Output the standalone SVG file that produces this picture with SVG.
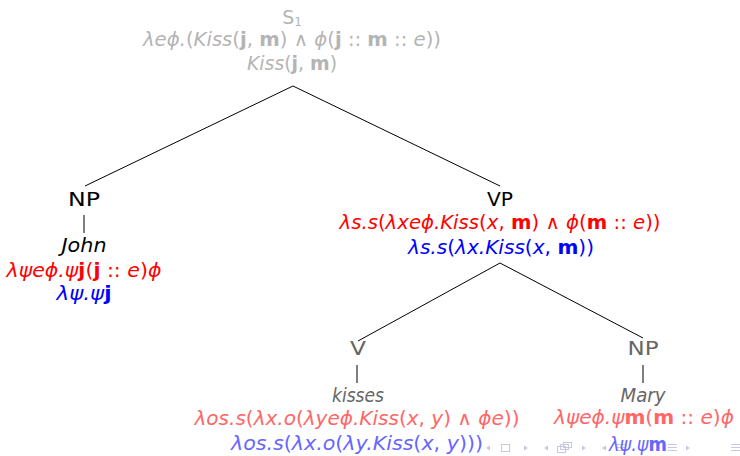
<svg xmlns="http://www.w3.org/2000/svg" width="740" height="456" viewBox="0 0 740 456">
<style>
text{font-family:"DejaVu Sans","Liberation Sans",sans-serif;font-size:19px;text-anchor:middle}
.i{font-style:italic}
.b{font-weight:bold}
.g1{fill:#b4b4b4}
.k{fill:#000}
.g2{fill:#666}
.r{fill:#ff0000}
.bl{fill:#0000ff}
.r2{fill:#ff6666}
.b2{fill:#6666ff}
.edge{stroke:#000;stroke-width:1;fill:none}
.nav{fill:#c8c8e4;stroke:none}
.navs{fill:none;stroke:#c8c8e4;stroke-width:1}
</style>
<rect width="740" height="456" fill="#fff"/>
<g id="connectors">
<line class="edge" x1="293" y1="86" x2="85" y2="186"/>
<line class="edge" x1="293" y1="86" x2="500" y2="186"/>
<line class="edge" x1="84" y1="215" x2="84" y2="233"/>
<line class="edge" x1="500" y1="263" x2="358" y2="341"/>
<line class="edge" x1="500" y1="263" x2="643" y2="338"/>
<line class="edge" x1="357" y1="365" x2="357" y2="383"/>
<line class="edge" x1="643" y1="365" x2="643" y2="383"/>
</g>
<g id="S1">
<text x="292" y="24" class="g1">S<tspan font-size="12" dy="2">1</tspan></text>
<text x="292" y="46" class="g1" textLength="298" lengthAdjust="spacingAndGlyphs"><tspan class="i">λeϕ.</tspan>(<tspan class="i">Kiss</tspan>(<tspan class="b">j</tspan>, <tspan class="b">m</tspan>) ∧ <tspan class="i">ϕ</tspan>(<tspan class="b">j</tspan> :: <tspan class="b">m</tspan> :: <tspan class="i">e</tspan>))</text>
<text x="292" y="70" class="g1" textLength="90" lengthAdjust="spacingAndGlyphs"><tspan class="i">Kiss</tspan>(<tspan class="b">j</tspan>, <tspan class="b">m</tspan>)</text>
</g>
<g id="NP1">
<text x="84" y="206" class="k" textLength="32" lengthAdjust="spacingAndGlyphs">NP</text>
<text x="84" y="252" class="k i" textLength="45" lengthAdjust="spacingAndGlyphs">John</text>
<text x="84" y="277" class="r" textLength="155" lengthAdjust="spacingAndGlyphs"><tspan class="i">λψeϕ.ψ</tspan><tspan class="b">j</tspan>(<tspan class="b">j</tspan> :: <tspan class="i">e</tspan>)<tspan class="i">ϕ</tspan></text>
<text x="84" y="300" class="bl" textLength="55" lengthAdjust="spacingAndGlyphs"><tspan class="i">λψ.ψ</tspan><tspan class="b">j</tspan></text>
</g>
<g id="VP">
<text x="500" y="206" class="k" textLength="26" lengthAdjust="spacingAndGlyphs">VP</text>
<text x="500" y="229" class="r" textLength="321" lengthAdjust="spacingAndGlyphs"><tspan class="i">λs.s</tspan>(<tspan class="i">λxeϕ.Kiss</tspan>(<tspan class="i">x</tspan>, <tspan class="b">m</tspan>) ∧ <tspan class="i">ϕ</tspan>(<tspan class="b">m</tspan> :: <tspan class="i">e</tspan>))</text>
<text x="501" y="254" class="bl" textLength="186" lengthAdjust="spacingAndGlyphs"><tspan class="i">λs.s</tspan>(<tspan class="i">λx.Kiss</tspan>(<tspan class="i">x</tspan>, <tspan class="b">m</tspan>))</text>
</g>
<g id="V">
<text x="358" y="355" class="g2" textLength="16" lengthAdjust="spacingAndGlyphs">V</text>
<text x="358" y="402" class="g2 i" textLength="52" lengthAdjust="spacingAndGlyphs">kisses</text>
<text x="357" y="425" class="r2" textLength="325" lengthAdjust="spacingAndGlyphs"><tspan class="i">λos.s</tspan>(<tspan class="i">λx.o</tspan>(<tspan class="i">λyeϕ.Kiss</tspan>(<tspan class="i">x</tspan>, <tspan class="i">y</tspan>) ∧ <tspan class="i">ϕe</tspan>))</text>
<text x="357" y="450" class="b2" textLength="252" lengthAdjust="spacingAndGlyphs"><tspan class="i">λos.s</tspan>(<tspan class="i">λx.o</tspan>(<tspan class="i">λy.Kiss</tspan>(<tspan class="i">x</tspan>, <tspan class="i">y</tspan>)))</text>
</g>
<g id="navigation">
<polygon class="nav" points="486,448 490,445.5 490,450.5"/>
<rect class="navs" x="501.5" y="444.5" width="8" height="7"/>
<polygon class="nav" points="528,448 524,445.5 524,450.5"/>
<polygon class="nav" points="544,448 548,445.5 548,450.5"/>
<rect class="navs" x="557.5" y="446.5" width="8" height="6"/>
<rect class="navs" x="560.5" y="444.5" width="8" height="5" fill="#fff"/>
<rect class="navs" x="563.5" y="442.5" width="8" height="5" fill="#fff"/>
<polygon class="nav" points="586,448 582,445.5 582,450.5"/>
<polygon class="nav" points="602,448 606,445.5 606,450.5"/>
<path class="navs" d="M 617 444.5 H 626 M 617 447.5 H 626 M 617 450.5 H 626"/>
<path class="navs" d="M 668 444.5 H 677 M 668 447.5 H 677 M 668 450.5 H 677"/>
<polygon class="nav" points="690,448 686,445.5 686,450.5"/>
<path class="navs" d="M 731 444.5 H 740 M 731 447.5 H 740 M 731 450.5 H 740"/>
</g>
<g id="NP2">
<text x="643" y="355" class="g2" textLength="31" lengthAdjust="spacingAndGlyphs">NP</text>
<text x="643" y="402" class="g2 i" textLength="45" lengthAdjust="spacingAndGlyphs">Mary</text>
<text x="644" y="424" class="r2" textLength="180" lengthAdjust="spacingAndGlyphs"><tspan class="i">λψeϕ.ψ</tspan><tspan class="b">m</tspan>(<tspan class="b">m</tspan> :: <tspan class="i">e</tspan>)<tspan class="i">ϕ</tspan></text>
<text x="638" y="451" class="b2" textLength="58" lengthAdjust="spacingAndGlyphs"><tspan class="i">λψ.ψ</tspan><tspan class="b">m</tspan></text>
</g>
</svg>
